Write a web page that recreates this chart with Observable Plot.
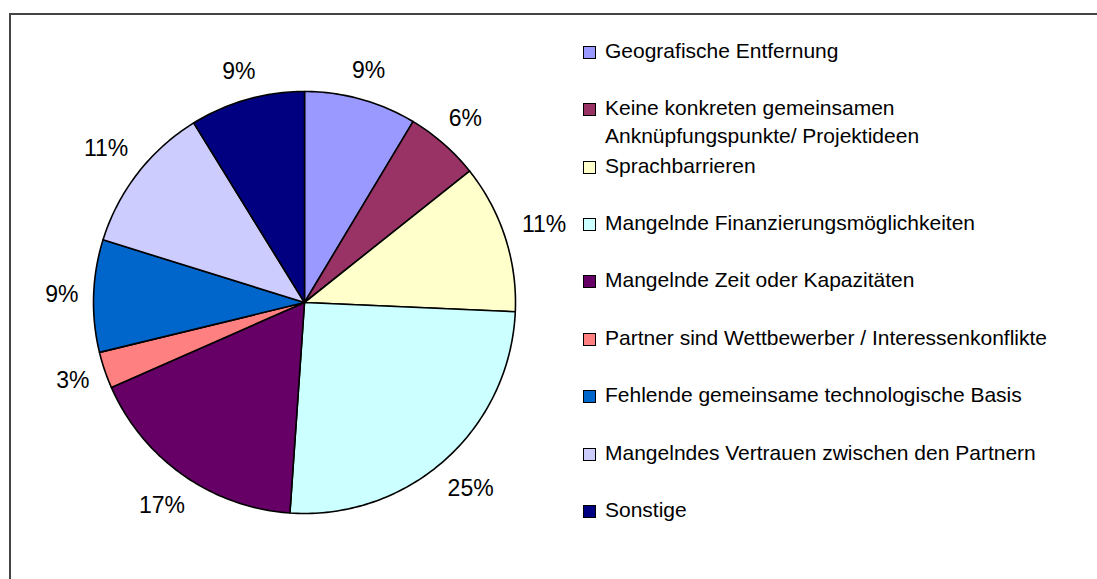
<!DOCTYPE html>
<html>
<head>
<meta charset="utf-8">
<script src="https://cdn.jsdelivr.net/npm/d3@7"></script>
<script src="https://cdn.jsdelivr.net/npm/@observablehq/plot@0.6"></script>
<style>
  body { margin: 0; background: #fff; font-family: "Liberation Sans", Arial, sans-serif; }
  #wrap { position: relative; width: 1097px; height: 579px; overflow: hidden; background: #fff; }
  #chart { position: absolute; left: 0; top: 0; }
  #frame { position: absolute; left: 9px; top: 13px; width: 1200px; height: 700px;
           border-left: 2px solid #444; border-top: 2px solid #444; pointer-events: none; }
  #legend { position: absolute; left: 583px; top: 0; }
  .item { position: absolute; left: 0; display: flex; align-items: flex-start; width: 490px; }
  .sw { flex: none; width: 11px; height: 11px; border: 1px solid #000; margin-top: 9px; }
  .lab { margin-left: 9px; font-size: 21px; line-height: 28px; color: #000; width: 465px; }
</style>
</head>
<body>
<div id="wrap">
  <div id="chart"></div>
  <div id="legend"></div>
  <div id="frame"></div>
</div>
<script>
// ---- data ----
const categories = [
  "Geografische Entfernung",
  "Keine konkreten gemeinsamen Anknüpfungspunkte/ Projektideen",
  "Sprachbarrieren",
  "Mangelnde Finanzierungsmöglichkeiten",
  "Mangelnde Zeit oder Kapazitäten",
  "Partner sind Wettbewerber / Interessenkonflikte",
  "Fehlende gemeinsame technologische Basis",
  "Mangelndes Vertrauen zwischen den Partnern",
  "Sonstige"
];
const values = [8.6, 5.7, 11.4, 25.4, 17.3, 2.8, 8.6, 11.4, 8.8];
const colors = ["#9999FF", "#993366", "#FFFFCC", "#CCFFFF", "#660066", "#FF8080", "#0066CC", "#CCCCFF", "#000080"];

// ---- layout ----
const W = 1097, H = 579;
const cx = 304, cy = 302, R = 211;       // pie center / radius in px
const labelFont = 23;                     // px
const labelGap = 16;                      // px between rim and label box

const rows = categories.map((c, i) => ({cat: c, value: values[i]}));
const arcs = d3.pie().sort(null).value(d => d.value)(rows);

// slice outlines in pie units (radius 1, y up, clockwise from 12 o'clock)
const slicePts = [];
arcs.forEach(a => {
  const cat = a.data.cat;
  const span = a.endAngle - a.startAngle;
  const n = Math.max(2, Math.ceil(span / (Math.PI / 180)));
  slicePts.push({cat, x: 0, y: 0});
  for (let k = 0; k <= n; k++) {
    const t = a.startAngle + span * k / n;
    slicePts.push({cat, x: Math.sin(t), y: Math.cos(t)});
  }
  slicePts.push({cat, x: 0, y: 0});
});

// outside-end labels: the label box sits just outside the rim along the mid-angle
const total = d3.sum(values);
const labelPts = arcs.map(a => {
  const m = (a.startAngle + a.endAngle) / 2;
  const text = Math.round(a.data.value / total * 100) + "%";
  const w = text.length * 0.72 * labelFont * 0.93, h = labelFont * 0.82;
  const ext = Math.abs(w / 2 * Math.sin(m)) + Math.abs(h / 2 * Math.cos(m));
  const d = (R + labelGap + ext) / R;
  return {x: Math.sin(m) * d, y: Math.cos(m) * d, text};
});

const chart = Plot.plot({
  width: W, height: H,
  margin: 0,
  x: {domain: [-cx / R, (W - cx) / R], axis: null},
  y: {domain: [-(H - cy) / R, cy / R], axis: null},
  color: {domain: categories, range: colors},
  style: {fontFamily: '"Liberation Sans", Arial, sans-serif', fontSize: labelFont + "px", background: "transparent", overflow: "visible"},
  marks: [
    Plot.line(slicePts, {x: "x", y: "y", z: "cat", fill: "cat", stroke: "#000", strokeWidth: 1.6, strokeLinejoin: "round", curve: "linear"}),
    Plot.text(labelPts, {x: "x", y: "y", text: "text", fill: "#000", fontSize: labelFont})
  ]
});
document.getElementById("chart").appendChild(chart);

// ---- legend ----
const legend = document.getElementById("legend");
categories.forEach((c, i) => {
  const centerY = 50.7 + i * 57.4;
  const item = document.createElement("div");
  item.className = "item";
  item.style.top = (centerY - 14) + "px";
  const sw = document.createElement("div");
  sw.className = "sw";
  sw.style.background = colors[i];
  const lab = document.createElement("div");
  lab.className = "lab";
  lab.textContent = c;
  item.appendChild(sw);
  item.appendChild(lab);
  legend.appendChild(item);
});
</script>
</body>
</html>
